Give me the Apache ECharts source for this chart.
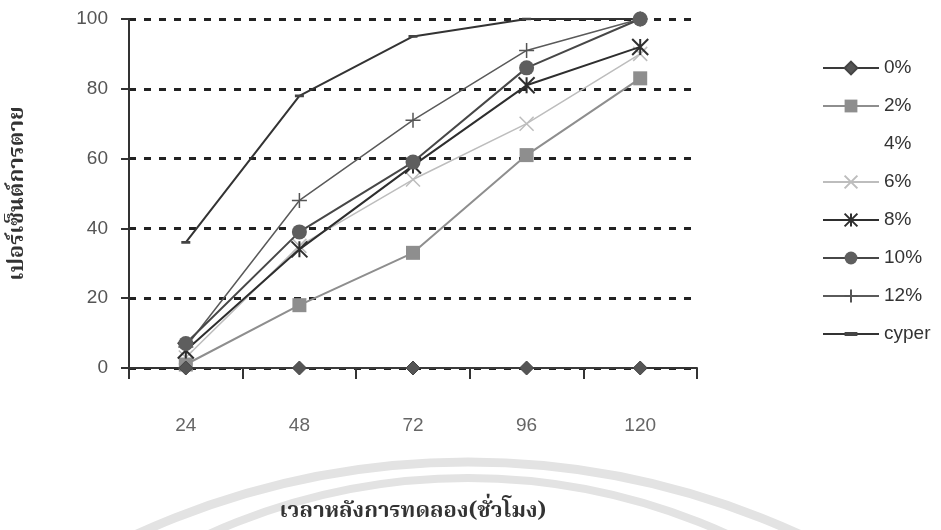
<!DOCTYPE html>
<html>
<head>
<meta charset="utf-8">
<script src="https://cdn.jsdelivr.net/npm/echarts@6/dist/echarts.min.js"></script>
<style>
  html, body { margin: 0; padding: 0; background: #ffffff; }
  #chart { width: 941px; height: 530px; }
</style>
</head>
<body>
<div id="chart"></div>
<script>
// Hours after treatment
const hours = ['24', '48', '72', '96', '120'];

// Mortality (%) per concentration
const conc0  = [0, 0, 0, 0, 0];
const conc2  = [1, 18, 33, 61, 83];
const conc4  = [null, null, null, null, null];
const conc6  = [3, 35, 54, 70, 90];
const conc8  = [5, 34, 58, 81, 92];
const conc10 = [7, 39, 59, 86, 100];
const conc12 = [6, 48, 71, 91, 100];
const cyper  = [36, 78, 95, 100, 100];

const yTicks = [0, 20, 40, 60, 80, 100];

const LATIN = '"Liberation Sans", Arial, sans-serif';
const THAI = '"Noto Serif Thai", "Noto Sans Thai", "TH Sarabun New", Loma, Garuda, "Tlwg Typo", serif';

const crossPath = 'path://M0,0L10,10M10,0L0,10';
const starPath = 'path://M0,0L10,10M10,0L0,10M5,0L5,10';
const plusPath = 'path://M5,0L5,10M0,5L10,5';
// thin horizontal bar inside a square 10x10 box (corner points keep the box square)
const dashPath = 'path://M0,0L0.01,0M0,10L0.01,10M0,3.5L10,3.5L10,6.5L0,6.5Z';

function lineSeries(name, data, opt) {
  return Object.assign({
    name: name,
    type: 'line',
    data: data,
    showSymbol: true,
    animation: false,
    emphasis: { disabled: true }
  }, opt);
}

const chart = echarts.init(document.getElementById('chart'), null, { renderer: 'canvas' });

chart.setOption({
  backgroundColor: '#ffffff',
  animation: false,
  grid: { left: 129, right: 244, top: 19, bottom: 162, containLabel: false },
  legend: {
    orient: 'vertical',
    left: 817,
    top: 53,
    itemWidth: 56,
    itemHeight: 16,
    itemGap: 18,
    selectedMode: false,
    textStyle: { fontFamily: LATIN, fontSize: 19, color: '#333', lineHeight: 20, padding: [0, 0, 0, 0] },
    data: [
      '0%', '2%',
      { name: '4%', itemStyle: { opacity: 0 }, lineStyle: { opacity: 0 } },
      '6%', '8%', '10%', '12%', 'cyper'
    ]
  },
  xAxis: {
    type: 'category',
    data: hours,
    boundaryGap: true,
    name: 'เวลาหลังการทดลอง(ชั่วโมง)',
    nameLocation: 'middle',
    nameGap: 134,
    nameTextStyle: { fontFamily: THAI, fontSize: 22, fontWeight: 'bold', color: '#333' },
    axisLine: { lineStyle: { color: '#333', width: 2 } },
    axisTick: { show: true, inside: false, length: 11, alignWithLabel: false, lineStyle: { color: '#333', width: 2 } },
    axisLabel: { margin: 48, fontFamily: LATIN, fontSize: 19, color: '#666' },
    splitLine: { show: false }
  },
  yAxis: {
    type: 'value',
    min: yTicks[0],
    max: yTicks[yTicks.length - 1],
    interval: yTicks[1] - yTicks[0],
    name: 'เปอร์เซ็นต์การตาย',
    nameLocation: 'middle',
    nameGap: 99,
    nameRotate: 90,
    nameTextStyle: { fontFamily: THAI, fontSize: 22, fontWeight: 'bold', color: '#333' },
    axisLine: { show: true, lineStyle: { color: '#333', width: 2 } },
    axisTick: { show: true, length: 8, lineStyle: { color: '#333', width: 2 } },
    axisLabel: { margin: 21, fontFamily: LATIN, fontSize: 19, color: '#555' },
    splitLine: { show: true, lineStyle: { color: '#222', width: 3, type: [7, 8] } }
  },
  graphic: [
    {
      type: 'arc', z: -10, silent: true,
      shape: { cx: 468, cy: 1258, r: 796, startAngle: Math.PI, endAngle: Math.PI * 2 },
      style: { stroke: '#e3e3e3', lineWidth: 9, fill: null }
    },
    {
      type: 'arc', z: -10, silent: true,
      shape: { cx: 468, cy: 1105, r: 627, startAngle: Math.PI, endAngle: Math.PI * 2 },
      style: { stroke: '#e3e3e3', lineWidth: 8, fill: null }
    }
  ],
  series: [
    lineSeries('0%', conc0, {
      z: 6, symbol: 'diamond', symbolSize: 14,
      itemStyle: { color: '#555', borderColor: '#444', borderWidth: 1 },
      lineStyle: { color: '#3a3a3a', width: 2 }
    }),
    lineSeries('2%', conc2, {
      z: 3, symbol: 'rect', symbolSize: 14,
      itemStyle: { color: '#8e8e8e' },
      lineStyle: { color: '#8e8e8e', width: 2 }
    }),
    lineSeries('4%', conc4, {
      z: 1, symbol: 'none',
      itemStyle: { opacity: 0 },
      lineStyle: { opacity: 0 }
    }),
    lineSeries('6%', conc6, {
      z: 2, symbol: crossPath, symbolSize: 14,
      itemStyle: { color: 'rgba(0,0,0,0)', borderColor: '#bdbdbd', borderWidth: 1.5 },
      lineStyle: { color: '#bdbdbd', width: 1.5 }
    }),
    lineSeries('8%', conc8, {
      z: 4, symbol: starPath, symbolSize: 16,
      itemStyle: { color: 'rgba(0,0,0,0)', borderColor: '#2e2e2e', borderWidth: 2 },
      lineStyle: { color: '#2e2e2e', width: 2 }
    }),
    lineSeries('10%', conc10, {
      z: 5, symbol: 'circle', symbolSize: 15,
      itemStyle: { color: '#5e5e5e' },
      lineStyle: { color: '#474747', width: 2 }
    }),
    lineSeries('12%', conc12, {
      z: 3, symbol: plusPath, symbolSize: 15,
      itemStyle: { color: 'rgba(0,0,0,0)', borderColor: '#555', borderWidth: 1.5 },
      lineStyle: { color: '#5a5a5a', width: 1.5 }
    }),
    lineSeries('cyper', cyper, {
      z: 3, symbol: dashPath, symbolSize: 9,
      itemStyle: { color: '#444' },
      lineStyle: { color: '#333', width: 2 }
    })
  ]
});
</script>
</body>
</html>
